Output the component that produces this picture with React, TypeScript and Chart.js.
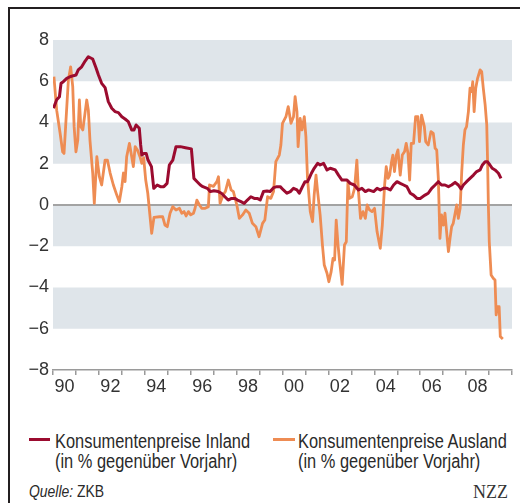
import React, { useEffect, useRef } from "react";
import { Chart, registerables } from "chart.js";

Chart.register(...registerables);

// Konsumentenpreise Inland (in % gegenüber Vorjahr)
const inlandX = [
  1990.02, 1990.16, 1990.28, 1990.35, 1990.45, 1990.6, 1990.74, 1990.89, 1991.0, 1991.1,
  1991.25, 1991.4, 1991.54, 1991.73, 1991.88, 1991.98, 1992.12, 1992.27, 1992.41, 1992.56,
  1992.7, 1992.85, 1993.0, 1993.14, 1993.28, 1993.43, 1993.53, 1993.62, 1993.76, 1993.82,
  1993.87, 1993.96, 1994.06, 1994.14, 1994.29, 1994.39, 1994.54, 1994.68, 1994.83, 1994.97,
  1995.07, 1995.22, 1995.36, 1995.55, 1995.77, 1996.03, 1996.14, 1996.28, 1996.42, 1996.53,
  1996.72, 1996.86, 1997.01, 1997.2, 1997.34, 1997.49, 1997.63, 1997.78, 1997.92, 1998.04,
  1998.19, 1998.33, 1998.47, 1998.62, 1998.77, 1998.9, 1999.03, 1999.17, 1999.32, 1999.46,
  1999.61, 1999.76, 1999.9, 2000.04, 2000.19, 2000.34, 2000.48, 2000.63, 2000.73, 2000.87,
  2000.98, 2001.09, 2001.16, 2001.26, 2001.38, 2001.53, 2001.64, 2001.79, 2001.94, 2002.08,
  2002.3, 2002.44, 2002.59, 2002.81, 2002.95, 2003.13, 2003.31, 2003.46, 2003.61, 2003.75,
  2003.97, 2004.12, 2004.26, 2004.4, 2004.55, 2004.7, 2004.84, 2004.99, 2005.13, 2005.28,
  2005.42, 2005.57, 2005.71, 2005.86, 2006.0, 2006.21, 2006.35, 2006.5, 2006.65, 2006.79,
  2006.93, 2007.08, 2007.23, 2007.37, 2007.52, 2007.66, 2007.78, 2007.88, 2008.02, 2008.17,
  2008.32, 2008.46, 2008.61, 2008.71, 2008.83, 2008.93, 2009.04, 2009.14, 2009.26, 2009.41,
  2009.52,
];
const inlandY = [
  4.69, 5.1, 5.25, 5.9, 5.98, 6.14, 6.22, 6.27, 6.3, 6.55,
  6.7, 6.98, 7.19, 7.08, 6.63, 6.3, 5.9, 5.69, 5.01, 4.69,
  4.53, 4.48, 4.28, 4.17, 4.04, 3.64, 3.64, 3.88, 3.72, 2.91,
  2.42, 2.5, 2.5, 2.18, 1.86, 0.81, 0.97, 0.89, 0.89, 1.05,
  1.94, 2.18, 2.83, 2.83, 2.78, 2.72, 1.29, 1.13, 0.97, 0.89,
  0.81, 0.65, 0.69, 0.65, 0.57, 0.4, 0.24, 0.32, 0.32, 0.24,
  0.16, 0.08, 0.24, 0.4, 0.32, 0.32, 0.24, 0.65, 0.68, 0.65,
  0.84, 0.89, 0.89, 0.73, 0.57, 0.65, 0.81, 0.73, 0.57, 0.89,
  1.13, 1.13, 1.29, 1.54, 1.78, 2.02, 1.94, 2.02, 1.7, 1.78,
  1.7, 1.45, 1.21, 1.21, 1.05, 0.97, 0.73, 0.81, 0.65, 0.73,
  0.65, 0.81, 0.73, 0.81, 0.81, 0.73, 0.97, 1.13, 1.05, 0.97,
  0.89, 0.57, 0.48, 0.32, 0.32, 0.48, 0.57, 0.81, 0.97, 1.13,
  0.97, 0.97, 0.89, 0.97, 1.1, 0.97, 0.78, 0.97, 1.13, 1.29,
  1.45, 1.62, 1.7, 1.94, 2.1, 2.1, 1.94, 1.78, 1.7, 1.54,
  1.29,
];

// Konsumentenpreise Ausland (in % gegenüber Vorjahr)
const auslandX = [
  1990.04, 1990.16, 1990.31, 1990.42, 1990.48, 1990.55, 1990.67, 1990.77, 1990.86, 1990.92,
  1991.0, 1991.08, 1991.15, 1991.21, 1991.3, 1991.47, 1991.54, 1991.61, 1991.73, 1991.8,
  1991.91, 1992.02, 1992.12, 1992.27, 1992.37, 1992.49, 1992.63, 1992.78, 1992.89, 1993.0,
  1993.07, 1993.14, 1993.21, 1993.33, 1993.43, 1993.5, 1993.58, 1993.68, 1993.79, 1993.87,
  1993.95, 1994.04, 1994.13, 1994.3, 1994.4, 1994.64, 1994.78, 1994.88, 1994.98, 1995.1,
  1995.22, 1995.36, 1995.51, 1995.61, 1995.71, 1995.8, 1995.9, 1996.0, 1996.12, 1996.19,
  1996.27, 1996.38, 1996.48, 1996.63, 1996.77, 1996.82, 1996.99, 1997.14, 1997.21, 1997.28,
  1997.41, 1997.51, 1997.64, 1997.76, 1997.86, 1998.01, 1998.12, 1998.26, 1998.4, 1998.55,
  1998.69, 1998.84, 1998.98, 1999.13, 1999.23, 1999.35, 1999.49, 1999.61, 1999.71, 1999.86,
  1999.93, 2000.0, 2000.15, 2000.25, 2000.37, 2000.48, 2000.55, 2000.63, 2000.68, 2000.77,
  2000.85, 2000.95, 2001.02, 2001.09, 2001.21, 2001.31, 2001.38, 2001.46, 2001.53, 2001.64,
  2001.74, 2001.82, 2001.94, 2002.02, 2002.12, 2002.2, 2002.27, 2002.34, 2002.42, 2002.49,
  2002.6, 2002.7, 2002.78, 2002.85, 2002.92, 2003.04, 2003.14, 2003.24, 2003.31, 2003.4,
  2003.51, 2003.61, 2003.69, 2003.79, 2003.9, 2004.01, 2004.12, 2004.26, 2004.35, 2004.45,
  2004.52, 2004.6, 2004.67, 2004.74, 2004.81, 2004.88, 2004.96, 2005.03, 2005.13, 2005.22,
  2005.32, 2005.39, 2005.47, 2005.54, 2005.61, 2005.71, 2005.8, 2005.9, 2005.97, 2006.06,
  2006.18, 2006.24, 2006.35, 2006.47, 2006.57, 2006.65, 2006.72, 2006.79, 2006.86, 2006.93,
  2007.01, 2007.08, 2007.15, 2007.23, 2007.3, 2007.37, 2007.44, 2007.59, 2007.66, 2007.74,
  2007.81, 2007.88, 2007.95, 2008.02, 2008.1, 2008.17, 2008.24, 2008.29, 2008.35, 2008.42,
  2008.5, 2008.61, 2008.68, 2008.75, 2008.83, 2008.9, 2008.94, 2008.97, 2009.01, 2009.09,
  2009.19, 2009.26, 2009.31, 2009.37, 2009.44, 2009.49, 2009.6,
];
const auslandY = [
  6.22, 4.6, 3.48, 2.58, 2.5, 3.8, 6.06, 6.7, 5.74, 3.8,
  2.58, 3.15, 5.09, 3.8, 3.64, 5.09, 4.6, 3.15, 1.55, 0.08,
  2.34, 1.37, 0.97, 2.18, 2.18, 1.55, 0.97, 0.48, 0.16, 0.89,
  1.55, 1.13, 2.34, 2.99, 2.34, 1.86, 2.83, 2.67, 2.34, 2.02,
  2.3, 1.21, 0.57, -1.37, -0.6, -0.57, -0.57, -0.97, -1.05, -0.4,
  -0.08, -0.24, -0.16, -0.4, -0.32, -0.53, -0.32, -0.48, -0.4, -0.16,
  0.24, 0.0, -0.16, -0.16, -0.08, 0.97, 0.9, 1.13, 1.37, 0.08,
  0.48, 0.65, 1.21, 0.73, 0.65, 0.0, -0.65, -0.48, -0.24, -0.4,
  -0.89, -1.05, -1.54, -0.89, -0.73, 0.4, 0.32, 0.65, 2.1, 2.42,
  2.91, 3.96, 4.28, 4.77, 3.96, 4.28, 5.25, 4.53, 2.83, 4.2,
  3.64, 4.28, 3.31, 1.29, -0.32, -0.81, 0.48, 1.45, 0.65, -0.48,
  -1.94, -2.91, -3.31, -3.72, -3.23, -2.59, -2.67, -0.73, -1.94, -2.75,
  -3.85, -1.94, -1.78, 1.13, 0.32, 0.4, 0.81, 2.18, 0.65, -0.65,
  -0.32, -0.65, 0.0, -0.24, -0.32, -0.16, -1.29, -2.1, -0.97, 0.97,
  1.86, 1.29, 1.45, 2.02, 2.42, 1.62, 2.42, 2.67, 1.45, 2.42,
  2.59, 2.99, 2.5, 1.21, 2.99, 2.99, 4.28, 4.28, 3.07, 4.36,
  3.8, 3.07, 2.91, 3.56, 3.47, 2.75, 2.67, 1.29, -1.62, -0.48,
  -0.97, -0.4, -1.29, -2.26, -1.62, -1.05, -0.89, 0.0, -0.65, -0.16,
  1.62, 2.91, 3.64, 3.8, 4.53, 5.66, 5.5, 5.98, 4.53, 5.66,
  6.14, 6.55, 6.46, 5.66, 4.85, 3.88, 1.94, 0.0, -1.78, -3.39,
  -3.56, -3.64, -5.33, -4.93, -4.93, -6.38, -6.5,
];

const yTicks = [-8, -6, -4, -2, 0, 2, 4, 6, 8];
const xLabelYears = [1990, 1992, 1994, 1996, 1998, 2000, 2002, 2004, 2006, 2008];
const xStart = 1990;
const xEnd = 2010;
const shadedBands: [number, number][] = [
  [6, 8],
  [2, 4],
  [-2, 0],
  [-6, -4],
];

const seriesNames = [
  ["Konsumentenpreise Inland", "(in % gegenüber Vorjahr)"],
  ["Konsumentenpreise Ausland", "(in % gegenüber Vorjahr)"],
];

const CRIMSON = "#9b0b2f";
const ORANGE = "#ee8c53";
const BAND = "#dfe5ea";
const SANS = "'Liberation Sans', Arial, sans-serif";

const bandPlugin = {
  id: "bands",
  beforeDraw(chart: any) {
    const { ctx, chartArea, scales } = chart;
    const y = scales.y;
    ctx.save();
    ctx.fillStyle = BAND;
    for (const [a, b] of shadedBands) {
      const y1 = y.getPixelForValue(b);
      const y2 = y.getPixelForValue(a);
      ctx.fillRect(chartArea.left, y1, chartArea.right - chartArea.left, y2 - y1);
    }
    ctx.restore();
  },
};

function ChartCanvas() {
  const ref = useRef<HTMLCanvasElement | null>(null);
  useEffect(() => {
    if (!ref.current) return;
    const chart = new Chart(ref.current, {
      type: "line",
      data: {
        datasets: [
          {
            label: seriesNames[0][0],
            data: inlandX.map((x, i) => ({ x, y: inlandY[i] })),
            borderColor: CRIMSON,
            borderWidth: 3,
            pointRadius: 0,
            tension: 0,
            borderJoinStyle: "round",
          },
          {
            label: seriesNames[1][0],
            data: auslandX.map((x, i) => ({ x, y: auslandY[i] })),
            borderColor: ORANGE,
            borderWidth: 2.8,
            pointRadius: 0,
            tension: 0,
            borderJoinStyle: "round",
          },
        ],
      },
      options: {
        responsive: false,
        maintainAspectRatio: false,
        animation: false,
        events: [],
        layout: { padding: { top: 20, right: 8, left: 0, bottom: 0 } },
        plugins: { legend: { display: false }, tooltip: { enabled: false } },
        scales: {
          x: {
            type: "linear",
            min: xStart,
            max: xEnd,
            afterFit: (s: any) => {
              s.height = 30;
            },
            afterBuildTicks: (s: any) => {
              const t: any[] = [];
              for (let v = xStart; v <= xEnd + 0.001; v += 0.5) t.push({ value: v });
              s.ticks = t;
            },
            border: { display: true, color: "#9a9a9a", width: 1.5 },
            grid: {
              drawOnChartArea: false,
              drawTicks: true,
              tickLength: 5,
              lineWidth: 1.5,
              color: (c: any) =>
                c.tick && Math.abs(c.tick.value - Math.round(c.tick.value)) < 0.01
                  ? "#9a9a9a"
                  : "rgba(0,0,0,0)",
            },
            ticks: {
              autoSkip: false,
              maxRotation: 0,
              padding: 1,
              color: "#333",
              font: { family: SANS, size: 18 },
              callback: (v: any) => {
                const yr = Math.floor(v);
                if (Math.abs(v - yr - 0.5) < 0.01 && xLabelYears.includes(yr)) {
                  return String(yr % 100).padStart(2, "0");
                }
                return "";
              },
            },
          },
          y: {
            min: yTicks[0],
            max: yTicks[yTicks.length - 1],
            afterFit: (s: any) => {
              s.width = 43;
            },
            afterBuildTicks: (s: any) => {
              s.ticks = yTicks.map((v) => ({ value: v }));
            },
            border: { display: false },
            grid: {
              drawTicks: false,
              lineWidth: 2,
              color: (c: any) => (c.tick && c.tick.value === 0 ? "#a3a3a3" : "rgba(0,0,0,0)"),
            },
            ticks: {
              padding: 4,
              color: "#333",
              font: { family: SANS, size: 18 },
              callback: (v: any) => (v < 0 ? "\u2212" + Math.abs(v) : String(v)),
            },
          },
        },
      },
      plugins: [bandPlugin],
    } as any);
    return () => chart.destroy();
  }, []);
  return (
    <canvas
      ref={ref}
      width={510}
      height={380}
      style={{ position: "absolute", left: 10, top: 20, width: 510, height: 380 }}
    />
  );
}

const narrowText: React.CSSProperties = {
  position: "absolute",
  fontFamily: SANS,
  color: "#2a2a2a",
  whiteSpace: "nowrap",
  transform: "scaleX(0.82)",
  transformOrigin: "0 0",
};

export default function App() {
  return (
    <div
      style={{
        position: "fixed",
        left: 0,
        top: 0,
        width: 520,
        height: 503,
        background: "#fff",
        overflow: "hidden",
      }}
    >
      <div
        style={{
          position: "absolute",
          left: 8,
          top: 7,
          width: 512,
          height: 496,
          boxSizing: "border-box",
          borderTop: "2px solid #231f20",
          borderLeft: "2px solid #231f20",
        }}
      />
      <ChartCanvas />
      {/* legend */}
      <div style={{ position: "absolute", left: 29, top: 437.5, width: 21, height: 3, background: CRIMSON }} />
      <div style={{ ...narrowText, left: 55, top: 431, fontSize: 20, lineHeight: "20px" }}>
        {seriesNames[0][0]}
        <br />
        {seriesNames[0][1]}
      </div>
      <div style={{ position: "absolute", left: 273, top: 437.5, width: 22, height: 3, background: ORANGE }} />
      <div style={{ ...narrowText, left: 298, top: 431, fontSize: 20, lineHeight: "20px" }}>
        {seriesNames[1][0]}
        <br />
        {seriesNames[1][1]}
      </div>
      <div style={{ ...narrowText, left: 29, top: 483, fontSize: 17, lineHeight: "17px" }}>
        <i>Quelle:</i> ZKB
      </div>
      <div
        style={{
          position: "absolute",
          whiteSpace: "nowrap",
          left: 473,
          top: 483,
          fontSize: 18,
          lineHeight: "18px",
          fontFamily: "'Liberation Serif', 'Times New Roman', serif",
          color: "#333",
        }}
      >
        NZZ
      </div>
    </div>
  );
}
